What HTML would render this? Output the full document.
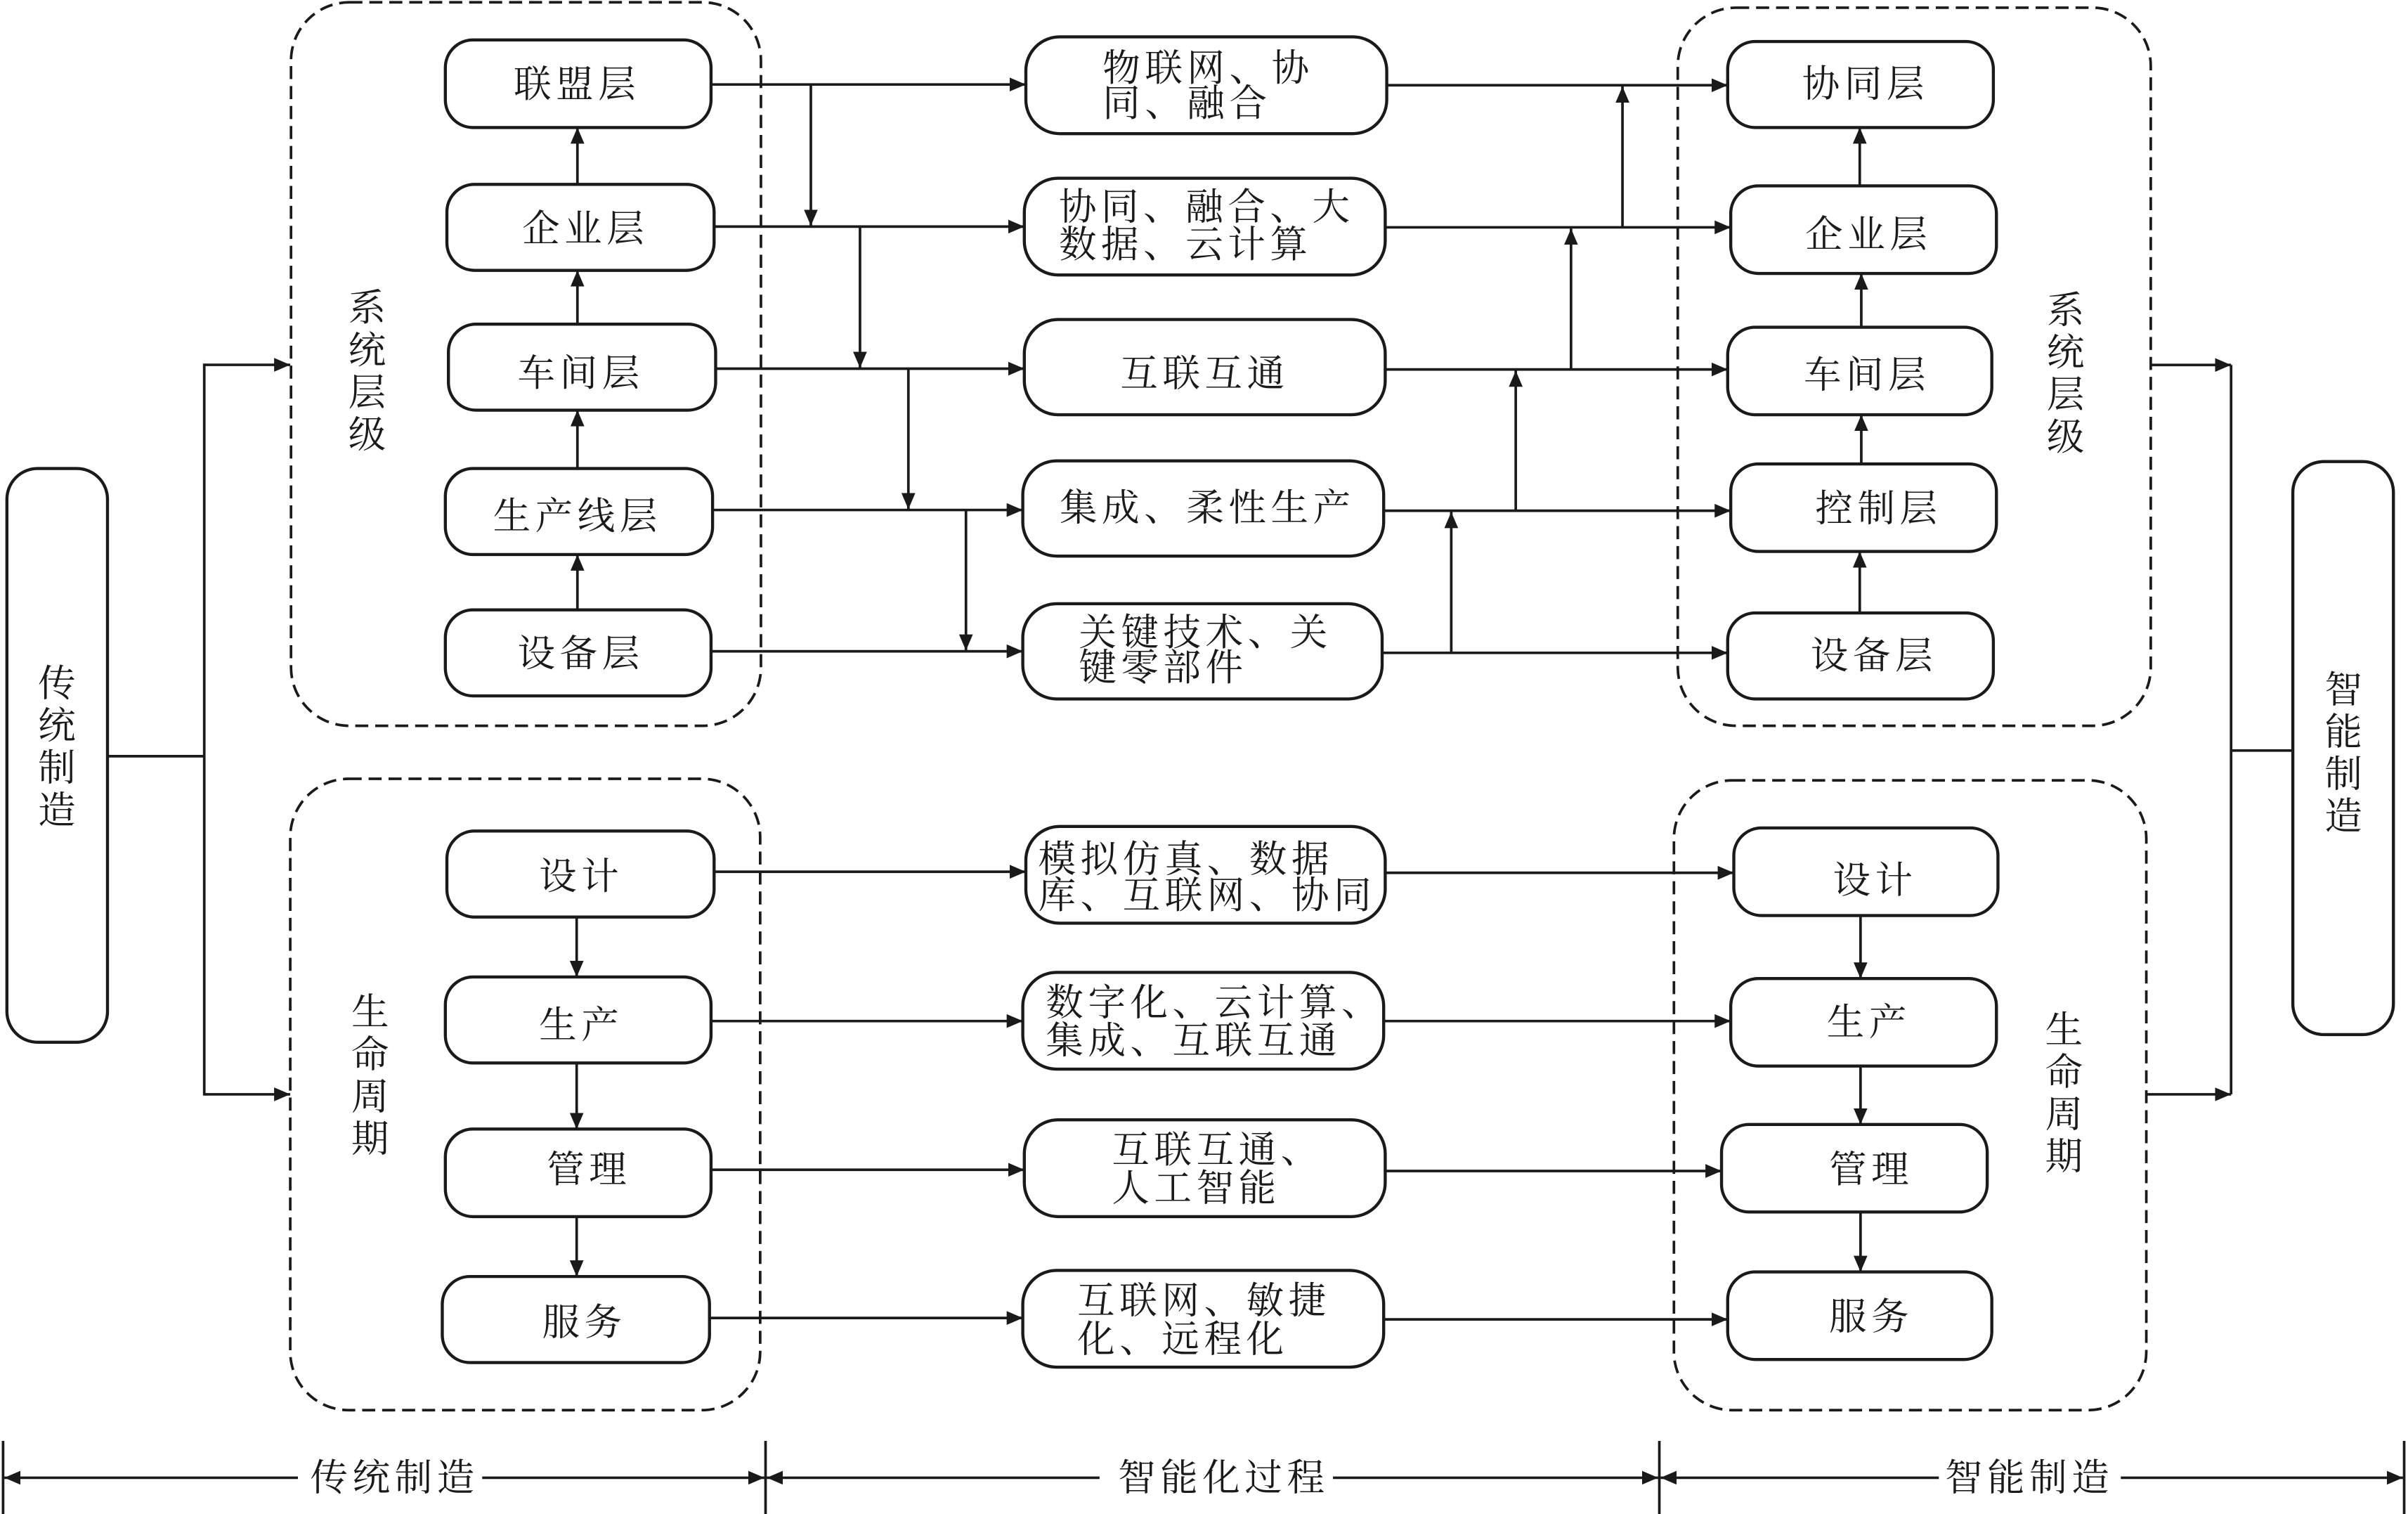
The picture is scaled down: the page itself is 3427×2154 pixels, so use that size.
<!DOCTYPE html>
<html><head><meta charset="utf-8"><style>
html,body{margin:0;padding:0;background:#fff;}
svg{display:block;}
text{font-family:"Liberation Serif","Noto Serif CJK SC","Noto Sans CJK SC",serif;font-size:24.5px;fill:#1a1a1a;dominant-baseline:central;}
.t{letter-spacing:3px;}
.v{text-anchor:middle;}
</style></head><body>
<svg width="3427" height="2154" viewBox="0 0 1568 985.6" preserveAspectRatio="none" xmlns="http://www.w3.org/2000/svg">
<defs>
<marker id="a" markerUnits="userSpaceOnUse" markerWidth="11" markerHeight="9" refX="10.5" refY="4.5" orient="auto">
<path d="M0,0 L10.5,4.5 L0,9 z" fill="#1a1a1a"/>
</marker>
</defs>
<g fill="none" stroke="#1a1a1a" stroke-width="1.7" stroke-dasharray="8.5,4.5">
<rect x="189.5" y="1.5" width="306" height="471" rx="38"/>
<rect x="1092.5" y="5" width="308" height="467.5" rx="38"/>
<rect x="189" y="507" width="306" height="411" rx="38"/>
<rect x="1090" y="508" width="307.6" height="410" rx="38"/>
</g>
<g fill="#fff" stroke="#1a1a1a" stroke-width="2">
<rect x="4.5" y="305" width="65.5" height="373.5" rx="20"/>
<rect x="1493" y="300.5" width="65.5" height="373" rx="20"/>
<rect x="290" y="26" width="173" height="57" rx="18"/>
<rect x="291" y="120" width="174" height="56" rx="18"/>
<rect x="292" y="211" width="174" height="56" rx="18"/>
<rect x="290" y="305" width="174" height="56" rx="18"/>
<rect x="290" y="397" width="173" height="56" rx="18"/>
<rect x="668" y="24" width="235" height="63" rx="22"/>
<rect x="667" y="116" width="235" height="63" rx="22"/>
<rect x="667" y="208" width="235" height="62" rx="22"/>
<rect x="666" y="300" width="235" height="62" rx="22"/>
<rect x="666" y="393" width="234" height="62" rx="22"/>
<rect x="1125" y="27" width="173" height="56" rx="18"/>
<rect x="1127" y="121" width="173" height="57" rx="18"/>
<rect x="1125" y="213" width="172" height="57" rx="18"/>
<rect x="1127" y="302" width="173" height="57" rx="18"/>
<rect x="1125" y="399" width="173" height="56" rx="18"/>
<rect x="291" y="541" width="174" height="56" rx="18"/>
<rect x="290" y="636" width="173" height="56" rx="18"/>
<rect x="290" y="735" width="173" height="57" rx="18"/>
<rect x="288" y="831" width="174" height="56" rx="18"/>
<rect x="668" y="538" width="234" height="63" rx="22"/>
<rect x="666" y="633" width="235" height="63" rx="22"/>
<rect x="667" y="729" width="235" height="63" rx="22"/>
<rect x="666" y="827" width="235" height="63" rx="22"/>
<rect x="1129" y="539" width="172" height="57" rx="18"/>
<rect x="1127" y="637" width="173" height="57" rx="18"/>
<rect x="1121" y="732" width="173" height="57" rx="18"/>
<rect x="1125" y="828" width="172" height="57" rx="18"/>
</g>
<g stroke="#1a1a1a" stroke-width="1.7" fill="none">
<!-- left outer -->
<line x1="70" y1="492.3" x2="133" y2="492.3"/>
<line x1="133" y1="236.7" x2="133" y2="713.2"/>
<line x1="133" y1="237.5" x2="189" y2="237.5" marker-end="url(#a)"/>
<line x1="133" y1="712.4" x2="189" y2="712.4" marker-end="url(#a)"/>
<!-- right outer -->
<line x1="1400.9" y1="237.6" x2="1452.8" y2="237.6" marker-end="url(#a)"/>
<line x1="1397.6" y1="712.4" x2="1452.8" y2="712.4" marker-end="url(#a)"/>
<line x1="1452.8" y1="237.6" x2="1452.8" y2="712.4"/>
<line x1="1452.8" y1="488.6" x2="1493" y2="488.6"/>
<!-- left system to middle -->
<line x1="463" y1="55" x2="668" y2="55" marker-end="url(#a)"/>
<line x1="465" y1="147.5" x2="667" y2="147.5" marker-end="url(#a)"/>
<line x1="466" y1="240" x2="667" y2="240" marker-end="url(#a)"/>
<line x1="464" y1="332" x2="666" y2="332" marker-end="url(#a)"/>
<line x1="463" y1="424" x2="666" y2="424" marker-end="url(#a)"/>
<line x1="528" y1="55" x2="528" y2="147" marker-end="url(#a)"/>
<line x1="560" y1="147.5" x2="560" y2="239.5" marker-end="url(#a)"/>
<line x1="591.5" y1="240" x2="591.5" y2="331.5" marker-end="url(#a)"/>
<line x1="629" y1="332" x2="629" y2="423.5" marker-end="url(#a)"/>
<!-- middle to right system -->
<line x1="903" y1="55.5" x2="1125" y2="55.5" marker-end="url(#a)"/>
<line x1="902" y1="148" x2="1127" y2="148" marker-end="url(#a)"/>
<line x1="902" y1="240.5" x2="1125" y2="240.5" marker-end="url(#a)"/>
<line x1="901" y1="332.5" x2="1127" y2="332.5" marker-end="url(#a)"/>
<line x1="900" y1="425" x2="1125" y2="425" marker-end="url(#a)"/>
<line x1="945" y1="425" x2="945" y2="333.3" marker-end="url(#a)"/>
<line x1="987" y1="332.5" x2="987" y2="241.3" marker-end="url(#a)"/>
<line x1="1023" y1="240.5" x2="1023" y2="148.8" marker-end="url(#a)"/>
<line x1="1056.5" y1="148" x2="1056.5" y2="56.3" marker-end="url(#a)"/>
<!-- vertical inside groups -->
<line x1="376" y1="120" x2="376" y2="83" marker-end="url(#a)"/>
<line x1="376" y1="211" x2="376" y2="176" marker-end="url(#a)"/>
<line x1="376" y1="305" x2="376" y2="267" marker-end="url(#a)"/>
<line x1="376" y1="397" x2="376" y2="361" marker-end="url(#a)"/>
<line x1="1211" y1="121" x2="1211" y2="83" marker-end="url(#a)"/>
<line x1="1212" y1="213" x2="1212" y2="178" marker-end="url(#a)"/>
<line x1="1212" y1="302" x2="1212" y2="270" marker-end="url(#a)"/>
<line x1="1211" y1="399" x2="1211" y2="359" marker-end="url(#a)"/>
<line x1="375.5" y1="597" x2="375.5" y2="636" marker-end="url(#a)"/>
<line x1="375.5" y1="692" x2="375.5" y2="735" marker-end="url(#a)"/>
<line x1="375.5" y1="792" x2="375.5" y2="831" marker-end="url(#a)"/>
<line x1="1211.5" y1="596" x2="1211.5" y2="637" marker-end="url(#a)"/>
<line x1="1211.5" y1="694" x2="1211.5" y2="732" marker-end="url(#a)"/>
<line x1="1211.5" y1="789" x2="1211.5" y2="828" marker-end="url(#a)"/>
<!-- lifecycle horizontals -->
<line x1="465" y1="567.5" x2="668" y2="567.5" marker-end="url(#a)"/>
<line x1="463" y1="664.7" x2="666" y2="664.7" marker-end="url(#a)"/>
<line x1="463" y1="761.5" x2="667" y2="761.5" marker-end="url(#a)"/>
<line x1="462" y1="858" x2="666" y2="858" marker-end="url(#a)"/>
<line x1="902" y1="568.2" x2="1129" y2="568.2" marker-end="url(#a)"/>
<line x1="901" y1="664.7" x2="1127" y2="664.7" marker-end="url(#a)"/>
<line x1="902" y1="762.3" x2="1121" y2="762.3" marker-end="url(#a)"/>
<line x1="901" y1="858.9" x2="1125" y2="858.9" marker-end="url(#a)"/>
<!-- bottom dims -->
<line x1="2" y1="938" x2="2" y2="986"/>
<line x1="498.5" y1="938" x2="498.5" y2="986"/>
<line x1="1080.5" y1="938" x2="1080.5" y2="986"/>
<line x1="1565.5" y1="938" x2="1565.5" y2="986"/>
<line x1="194" y1="962" x2="2.8" y2="962" marker-end="url(#a)"/>
<line x1="314" y1="962" x2="497.7" y2="962" marker-end="url(#a)"/>
<line x1="716" y1="962" x2="499.3" y2="962" marker-end="url(#a)"/>
<line x1="868" y1="962" x2="1079.7" y2="962" marker-end="url(#a)"/>
<line x1="1262.5" y1="962" x2="1081.3" y2="962" marker-end="url(#a)"/>
<line x1="1381" y1="962" x2="1564.7" y2="962" marker-end="url(#a)"/>
</g>
<g class="t">
<text x="334.5" y="55">联盟层</text>
<text x="340" y="149">企业层</text>
<text x="337" y="243">车间层</text>
<text x="321" y="336">生产线层</text>
<text x="337" y="425.5">设备层</text>
<text x="1173.5" y="54.6">协同层</text>
<text x="1175.5" y="152.5">企业层</text>
<text x="1174.5" y="244">车间层</text>
<text x="1182" y="331">控制层</text>
<text x="1179" y="427">设备层</text>
<text x="351" y="570.6">设计</text>
<text x="351" y="667.3">生产</text>
<text x="356" y="761.3">管理</text>
<text x="353" y="861">服务</text>
<text x="1193.5" y="573.2">设计</text>
<text x="1189.5" y="665.6">生产</text>
<text x="1191" y="761.3">管理</text>
<text x="1191" y="857.3">服务</text>
<text x="718" y="44.4">物联网、协</text>
<text x="718" y="67.3">同、融合</text>
<text x="689.5" y="134.7">协同、融合、大</text>
<text x="689.5" y="159.2">数据、云计算</text>
<text x="729.5" y="243.3">互联互通</text>
<text x="690" y="330.6">集成、柔性生产</text>
<text x="702.5" y="411.7">关键技术、关</text>
<text x="702.5" y="434.7">键零部件</text>
<text x="676" y="559.3">模拟仿真、数据</text>
<text x="676" y="582.9">库、互联网、协同</text>
<text x="681" y="652.7">数字化、云计算、</text>
<text x="681" y="677.5">集成、互联互通</text>
<text x="724" y="748.5">互联互通、</text>
<text x="724" y="773.6">人工智能</text>
<text x="701.5" y="846.7">互联网、敏捷</text>
<text x="701.5" y="871.8">化、远程化</text>
<text x="202" y="962">传统制造</text>
<text x="728" y="962">智能化过程</text>
<text x="1266.5" y="962">智能制造</text>
</g>
<g class="v">
<text x="239" y="200.5">系</text><text x="239" y="228">统</text><text x="239" y="255.5">层</text><text x="239" y="283">级</text>
<text x="1345" y="202">系</text><text x="1345" y="229.5">统</text><text x="1345" y="257">层</text><text x="1345" y="284.5">级</text>
<text x="241" y="659">生</text><text x="241" y="686.5">命</text><text x="241" y="714">周</text><text x="241" y="741.5">期</text>
<text x="1344" y="670.5">生</text><text x="1344" y="698">命</text><text x="1344" y="725.5">周</text><text x="1344" y="753">期</text>
<text x="37" y="445">传</text><text x="37" y="472.5">统</text><text x="37" y="500">制</text><text x="37" y="527.5">造</text>
<text x="1526" y="449">智</text><text x="1526" y="476.5">能</text><text x="1526" y="504">制</text><text x="1526" y="531.5">造</text>
</g>
</svg>
</body></html>
